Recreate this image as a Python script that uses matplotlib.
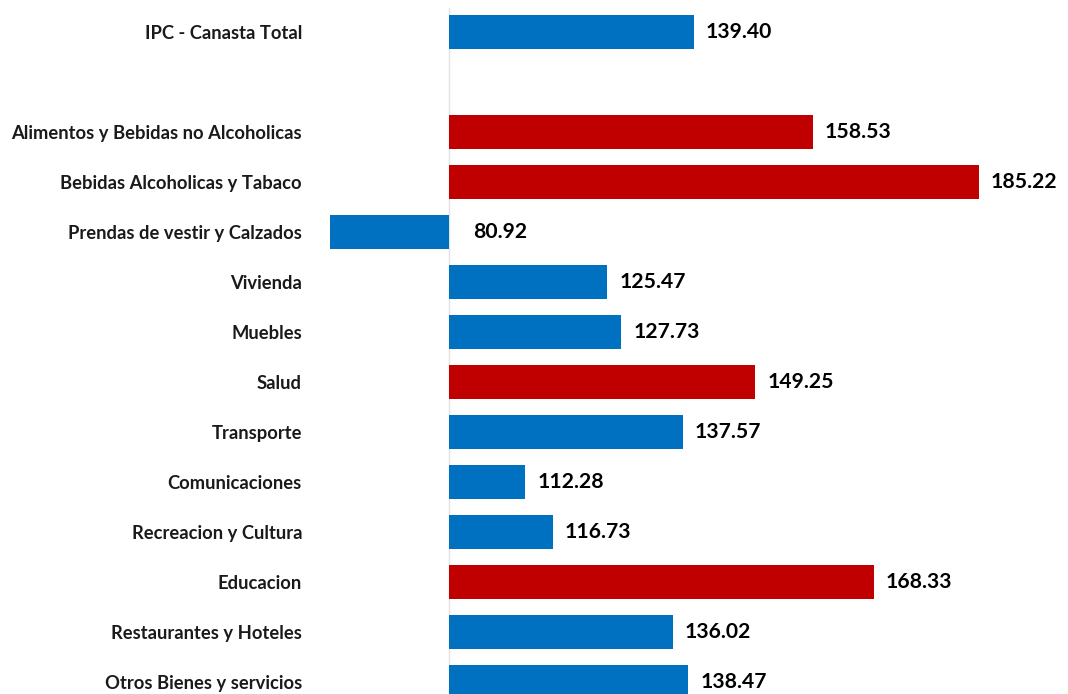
import numpy as np
import matplotlib.pyplot as plt

# Data
categories = [
    "IPC - Canasta Total",
    "Alimentos y Bebidas no Alcoholicas",
    "Bebidas Alcoholicas y Tabaco",
    "Prendas de vestir y Calzados",
    "Vivienda",
    "Muebles",
    "Salud",
    "Transporte",
    "Comunicaciones",
    "Recreacion y Cultura",
    "Educacion",
    "Restaurantes y Hoteles",
    "Otros Bienes y servicios",
]
values = [139.40, 158.53, 185.22, 80.92, 125.47, 127.73, 149.25,
          137.57, 112.28, 116.73, 168.33, 136.02, 138.47]
above_total = [False, True, True, False, False, False, True,
               False, False, False, True, False, False]
base = 100.0

BLUE = "#0070C0"
RED = "#C00000"

plt.rcParams["font.family"] = ["Lato", "DejaVu Sans"]

# row positions: total on top, then one empty row
ypos = np.array([0] + list(range(2, 2 + len(categories) - 1)))
vals = np.array(values)
colors = [RED if a else BLUE for a in above_total]

W, H = 1068, 694
fig = plt.figure(figsize=(W / 100, H / 100), dpi=100, facecolor="white")
left_px = 318
ax = fig.add_axes([left_px / W, 0, 1 - left_px / W, 1])

scale = 6.22  # px per unit
base_px = 449
ax.set_xlim(base - (base_px - left_px) / scale, base + (W - base_px) / scale)
ax.set_ylim(ypos[-1] + (H - 682) / 50, -32 / 50)

ax.barh(ypos, vals - base, left=base, height=0.68, color=colors, zorder=2)

# baseline
ax.plot([base, base], [-24 / 50, ypos[-1] + 1], color="#E3E3E3", lw=1, zorder=1)

for y, v in zip(ypos, vals):
    x = v + 12 / scale if v >= base else base + 24 / scale
    ax.text(x, y, f"{v:.2f}", ha="left", va="center", fontsize=15.2,
            fontweight="bold", color="black")

ax.set_yticks(ypos)
ax.set_yticklabels(categories, fontsize=13.2, fontweight="bold", color="#1a1a1a")
ax.tick_params(axis="y", length=0, pad=(left_px - 302) * 0.72)
ax.set_xticks([])
for s in ax.spines.values():
    s.set_visible(False)

fig.savefig("out.png", dpi=100, facecolor="white")
